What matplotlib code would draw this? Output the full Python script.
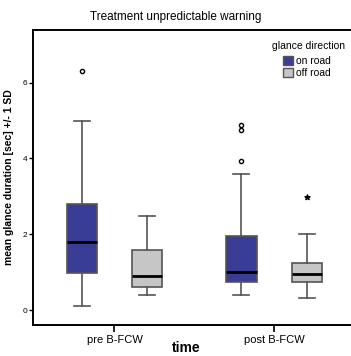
import matplotlib
matplotlib.use("Agg")
import matplotlib.pyplot as plt
from matplotlib.patches import Patch

plt.rcParams["font.family"] = ["Liberation Sans", "DejaVu Sans"]

# data (seconds)
times = ["pre B-FCW", "post B-FCW"]
directions = ["on road", "off road"]
colors = ["#3a3d96", "#c6c6c6"]

whislo = {"on road": [0.10, 0.40], "off road": [0.40, 0.31]}
q1 = {"on road": [0.97, 0.74], "off road": [0.60, 0.74]}
med = {"on road": [1.80, 1.01], "off road": [0.89, 0.96]}
q3 = {"on road": [2.79, 1.96], "off road": [1.59, 1.25]}
whishi = {"on road": [5.00, 3.60], "off road": [2.49, 2.00]}
circles = {"on road": [[6.30], [3.93, 4.76, 4.89]], "off road": [[], []]}
stars = {"on road": [[], []], "off road": [[], [2.99]]}

fig = plt.figure(figsize=(3.51, 3.56), dpi=100)
ax = fig.add_axes([0.094, 0.087, 0.91, 0.829])

offsets = [-0.205, 0.205]
for d, off, col in zip(directions, offsets, colors):
    stats = []
    for i in range(len(times)):
        stats.append(dict(med=med[d][i], q1=q1[d][i], q3=q3[d][i],
                          whislo=whislo[d][i], whishi=whishi[d][i], fliers=[]))
    pos = [i + off for i in range(len(times))]
    ax.bxp(stats, positions=pos, widths=0.19, patch_artist=True,
           showfliers=False,
           boxprops=dict(facecolor=col, edgecolor="#555555", linewidth=1.2),
           medianprops=dict(color="black", linewidth=2),
           whiskerprops=dict(color="#555555", linewidth=1.2),
           capprops=dict(color="#555555", linewidth=1.2),
           capwidths=0.1)
    for i in range(len(times)):
        if circles[d][i]:
            ax.scatter([i + off] * len(circles[d][i]), circles[d][i], s=9,
                       facecolors="white", edgecolors="black", linewidths=1, zorder=5)
        if stars[d][i]:
            ax.scatter([i + off] * len(stars[d][i]), stars[d][i], s=14,
                       marker="*", color="black", zorder=5)

ax.set_xlim(-0.51, 1.49)
ax.set_ylim(-0.39, 7.39)
ax.set_xticks(range(len(times)))
ax.set_xticklabels(times, fontsize=8)
ax.set_yticks([0, 2, 4, 6])
ax.tick_params(axis="y", labelsize=6, length=3, width=1, pad=1)
ax.tick_params(axis="x", length=5, width=1.2, pad=2)
ax.spines["right"].set_visible(False)
for s in ["left", "bottom", "top"]:
    ax.spines[s].set_linewidth(1.4)

ax.set_ylabel("mean glance duration [sec] +/- 1 SD", fontsize=7.5,
              fontweight="bold", labelpad=6)
fig.text(0.53, 0.012, "time", fontsize=10, fontweight="bold", ha="center")
fig.text(0.5, 0.945, "Treatment unpredictable warning", fontsize=8.5, ha="center")

# legend: title and entries placed separately to match the spacing
fig.text(309 / 351, 1 - 46 / 356, "glance direction", fontsize=7.5,
         ha="center", va="center")
handles = [Patch(facecolor=c, edgecolor="#555555", label=d)
           for d, c in zip(directions, colors)]
ax.legend(handles=handles, loc="upper left",
          bbox_to_anchor=(283 / 351, 1 - 56 / 356), bbox_transform=fig.transFigure,
          frameon=False, fontsize=7.5, handlelength=1.0, handleheight=1.0,
          handletextpad=0.2, labelspacing=0.15, borderpad=0, borderaxespad=0)

fig.savefig("out.png", dpi=100)
